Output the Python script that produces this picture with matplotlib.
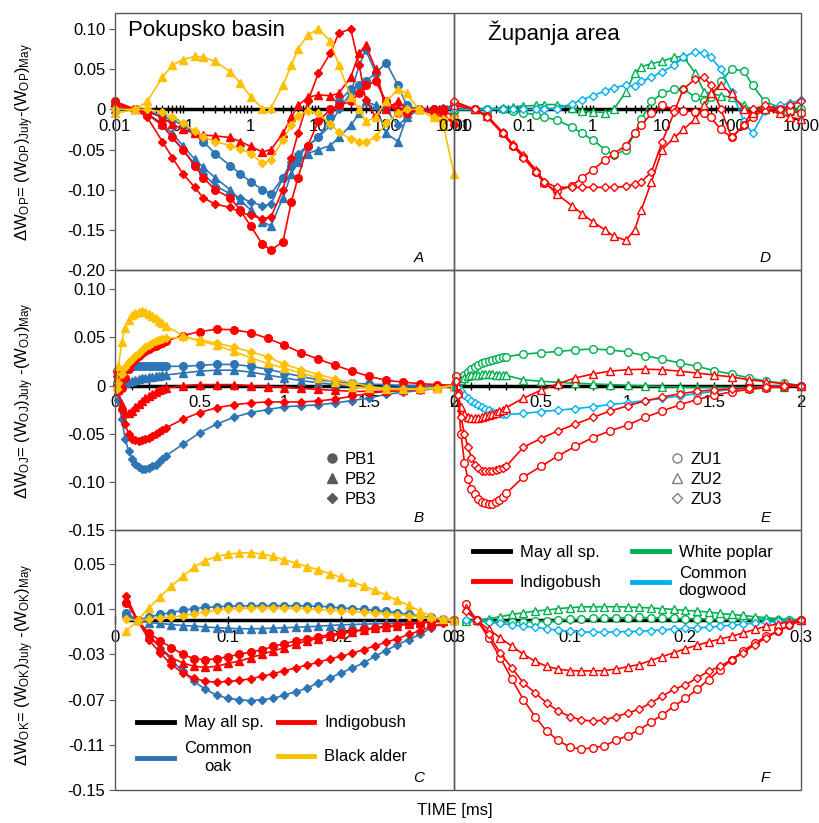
import matplotlib
matplotlib.use('Agg')
import matplotlib.pyplot as plt
from matplotlib.lines import Line2D
from matplotlib.legend import Legend
from matplotlib.patches import Rectangle
from matplotlib.ticker import MultipleLocator, NullFormatter

plt.rcParams['font.family'] = ['Liberation Sans', 'DejaVu Sans']
plt.rcParams['mathtext.fontset'] = 'custom'
plt.rcParams['mathtext.rm'] = 'Liberation Sans'
plt.rcParams['mathtext.it'] = 'Liberation Sans:italic'

# ---------------- data ----------------
# time grids [ms]
t_op = [0.01, 0.02, 0.03, 0.05, 0.07, 0.1, 0.15, 0.2, 0.3, 0.5, 0.7, 1, 1.5, 2, 3, 4, 5, 7,
        10, 15, 20, 30, 40, 50, 70, 100, 150, 200, 300, 500, 700, 1000]
t_oj = [0.01, 0.02, 0.04, 0.06, 0.08, 0.1, 0.12, 0.14, 0.16, 0.18, 0.2, 0.22, 0.24, 0.26, 0.28, 0.3,
        0.4, 0.5, 0.6, 0.7, 0.8, 0.9, 1.0, 1.1, 1.2, 1.3, 1.4, 1.5, 1.6, 1.7, 1.8, 1.9, 2.0]
t_ok = [0.01, 0.02, 0.03, 0.04, 0.05, 0.06, 0.07, 0.08, 0.09, 0.10, 0.11, 0.12, 0.13, 0.14, 0.15,
        0.16, 0.17, 0.18, 0.19, 0.20, 0.21, 0.22, 0.23, 0.24, 0.25, 0.26, 0.27, 0.28, 0.29, 0.30]

# panel A: dW_OP, Pokupsko basin
op_indigo_pb1 = [0.01, 0.0, -0.005, -0.02, -0.035, -0.05, -0.07, -0.085, -0.1, -0.11, -0.125, -0.145, -0.168,
                 -0.175, -0.165, -0.115, -0.085, -0.045, -0.015, 0.0, 0.005, 0.01, 0.02, 0.03, 0.035, 0.01,
                 -0.005, -0.005, 0.0, 0.0, 0.0, -0.01]
op_indigo_pb2 = [0.008, 0.0, -0.003, -0.01, -0.018, -0.025, -0.03, -0.032, -0.033, -0.035, -0.04, -0.046,
                 -0.053, -0.05, -0.03, -0.01, 0.005, 0.015, 0.018, 0.017, 0.02, 0.04, 0.07, 0.08, 0.05, 0.0,
                 0.01, 0.0, 0.0, -0.005, -0.01, -0.015]
op_indigo_pb3 = [0.005, 0.0, -0.01, -0.04, -0.06, -0.08, -0.097, -0.11, -0.118, -0.122, -0.128, -0.132,
                 -0.136, -0.134, -0.1, -0.06, -0.03, 0.01, 0.045, 0.07, 0.095, 0.1, 0.055, 0.012, -0.01,
                 0.01, 0.0, -0.005, 0.0, -0.005, -0.005, -0.02]
op_oak_pb1 = [0.005, 0.0, -0.002, -0.008, -0.013, -0.02, -0.03, -0.04, -0.055, -0.07, -0.08, -0.09, -0.1,
              -0.105, -0.085, -0.07, -0.06, -0.045, -0.035, -0.01, 0.01, 0.025, 0.03, 0.035, 0.045, 0.058,
              0.03, 0.005, 0.0, 0.0, 0.0, 0.003]
op_oak_pb2 = [0.0, 0.0, -0.005, -0.018, -0.03, -0.045, -0.062, -0.072, -0.085, -0.1, -0.113, -0.125, -0.14,
              -0.145, -0.11, -0.08, -0.065, -0.055, -0.05, -0.045, -0.035, -0.02, -0.005, 0.01, 0.005,
              -0.03, -0.04, -0.01, 0.0, 0.0, 0.0, 0.0]
op_oak_pb3 = [0.0, 0.0, -0.006, -0.02, -0.035, -0.05, -0.068, -0.08, -0.095, -0.105, -0.11, -0.115, -0.12,
              -0.118, -0.085, -0.065, -0.055, -0.045, -0.035, -0.02, 0.0, 0.02, 0.055, 0.074, 0.045, 0.0,
              -0.02, -0.01, 0.0, 0.0, 0.002, 0.005]
op_alder_pb2 = [-0.005, 0.0, 0.01, 0.04, 0.055, 0.062, 0.066, 0.065, 0.06, 0.047, 0.033, 0.016, 0.001,
                0.002, 0.03, 0.055, 0.075, 0.093, 0.1, 0.085, 0.055, 0.016, 0.0, -0.015, -0.01, 0.01, 0.025,
                0.02, 0.0, -0.01, -0.02, -0.08]
op_alder_pb3 = [0.0, 0.0, 0.0, -0.003, -0.01, -0.017, -0.027, -0.034, -0.04, -0.045, -0.049, -0.055, -0.067,
                -0.063, -0.038, -0.02, -0.008, -0.002, -0.005, -0.018, -0.028, -0.037, -0.04, -0.04, -0.035,
                -0.017, -0.005, 0.0, 0.0, -0.01, -0.012, -0.01]

# panel D: dW_OP, Zupanja area
op_indigo_zu1 = [0.008, 0.0, -0.008, -0.03, -0.045, -0.059, -0.078, -0.092, -0.102, -0.095, -0.085, -0.075,
                 -0.063, -0.055, -0.045, -0.03, -0.02, -0.005, 0.005, 0.0, -0.002, -0.003, -0.005, -0.01,
                 -0.025, -0.035, -0.02, -0.01, 0.0, 0.0, -0.002, -0.005]
op_indigo_zu2 = [0.005, 0.0, -0.008, -0.028, -0.043, -0.057, -0.075, -0.09, -0.105, -0.12, -0.13, -0.14,
                 -0.15, -0.158, -0.163, -0.15, -0.125, -0.09, -0.05, -0.035, -0.025, -0.012, 0.005, 0.02,
                 0.03, 0.02, 0.0, -0.005, 0.0, -0.005, -0.01, -0.012]
op_indigo_zu3 = [0.01, 0.0, -0.01, -0.03, -0.045, -0.06, -0.078, -0.09, -0.097, -0.097, -0.097, -0.097,
                 -0.097, -0.097, -0.096, -0.093, -0.09, -0.078, -0.04, -0.003, 0.025, 0.038, 0.04, 0.03, 0.0,
                 -0.035, -0.02, 0.0, 0.005, 0.0, 0.005, 0.01]
op_poplar_zu1 = [0.0, 0.0, 0.0, 0.0, -0.002, -0.004, -0.007, -0.01, -0.013, -0.022, -0.03, -0.038, -0.05,
                 -0.057, -0.05, -0.03, -0.012, 0.01, 0.02, 0.025, 0.026, 0.015, 0.01, 0.015, 0.035, 0.05,
                 0.048, 0.03, 0.01, 0.002, 0.0, 0.0]
op_poplar_zu2 = [0.0, 0.0, 0.0, 0.002, 0.003, 0.004, 0.005, 0.006, 0.006, 0.002, -0.002, -0.003, -0.004,
                 0.0, 0.022, 0.045, 0.053, 0.057, 0.06, 0.065, 0.066, 0.045, 0.022, 0.02, 0.017, 0.015,
                 0.005, 0.0, 0.0, 0.0, -0.002, -0.002]
op_dogwood_zu3 = [0.0, 0.0, 0.0, 0.0, 0.0, 0.0, 0.0, 0.0, 0.001, 0.007, 0.012, 0.017, 0.023, 0.027, 0.03,
                  0.029, 0.035, 0.04, 0.047, 0.055, 0.065, 0.072, 0.07, 0.065, 0.05, 0.022, -0.015, -0.03,
                  -0.002, 0.005, 0.008, 0.012]

# panel B: dW_OJ, Pokupsko basin
oj_indigo_pb1 = [0.015, 0.005, -0.002, 0.008, 0.017, 0.024, 0.028, 0.031, 0.034, 0.036, 0.038, 0.04, 0.041,
                 0.043, 0.044, 0.046, 0.052, 0.056, 0.0585, 0.058, 0.055, 0.049, 0.042, 0.034, 0.0275, 0.021,
                 0.015, 0.0095, 0.0055, 0.0035, 0.002, 0.001, 0.0]
oj_indigo_pb2 = [0.005, -0.005, -0.02, -0.028, -0.028, -0.026, -0.022, -0.019, -0.016, -0.013, -0.011,
                 -0.009, -0.007, -0.005, -0.004, -0.003, 0.0, 0.001, 0.001, 0.001, 0.0, -0.001, -0.002,
                 -0.003, -0.004, -0.005, -0.006, -0.006, -0.006, -0.005, -0.004, -0.002, 0.0]
oj_indigo_pb3 = [0.01, -0.005, -0.025, -0.04, -0.05, -0.055, -0.057, -0.058, -0.057, -0.056, -0.054, -0.052,
                 -0.05, -0.048, -0.046, -0.044, -0.035, -0.028, -0.023, -0.02, -0.018, -0.017, -0.017,
                 -0.017, -0.016, -0.014, -0.011, -0.008, -0.006, -0.005, -0.004, -0.002, 0.0]
oj_oak_pb1 = [0.003, 0.008, 0.014, 0.017, 0.019, 0.02, 0.02, 0.02, 0.02, 0.02, 0.02, 0.02, 0.02, 0.02, 0.02,
              0.02, 0.02, 0.021, 0.022, 0.022, 0.02, 0.017, 0.013, 0.0095, 0.006, 0.004, 0.0025, 0.0015,
              0.001, 0.0, 0.0, 0.0, 0.0]
oj_oak_pb2 = [0.0, 0.001, 0.002, 0.003, 0.004, 0.005, 0.006, 0.007, 0.0075, 0.008, 0.0085, 0.009, 0.0095,
              0.01, 0.0105, 0.011, 0.013, 0.015, 0.016, 0.016, 0.014, 0.011, 0.008, 0.005, 0.003, 0.001,
              -0.001, -0.002, -0.002, -0.002, -0.001, -0.001, 0.0]
oj_oak_pb3 = [0.003, -0.015, -0.035, -0.055, -0.068, -0.076, -0.081, -0.085, -0.087, -0.087, -0.086, -0.084,
              -0.082, -0.079, -0.076, -0.073, -0.061, -0.049, -0.04, -0.033, -0.028, -0.025, -0.022, -0.021,
              -0.02, -0.018, -0.0155, -0.013, -0.009, -0.007, -0.005, -0.003, 0.0]
oj_alder_pb2 = [0.0, 0.02, 0.045, 0.06, 0.068, 0.073, 0.075, 0.076, 0.077, 0.076, 0.074, 0.072, 0.07, 0.067,
                0.065, 0.062, 0.052, 0.046, 0.042, 0.0355, 0.029, 0.023, 0.018, 0.013, 0.008, 0.004, -0.001,
                -0.003, -0.004, -0.004, -0.003, -0.002, 0.0]
oj_alder_pb3 = [-0.004, 0.003, 0.012, 0.019, 0.024, 0.028, 0.031, 0.034, 0.037, 0.04, 0.042, 0.044, 0.046,
                0.047, 0.048, 0.049, 0.05, 0.0475, 0.044, 0.04, 0.035, 0.03, 0.022, 0.0165, 0.0115, 0.007,
                0.003, -0.001, -0.003, -0.004, -0.004, -0.003, 0.0]

# panel E: dW_OJ, Zupanja area
oj_indigo_zu1 = [0.01, -0.008, -0.05, -0.08, -0.097, -0.107, -0.113, -0.118, -0.121, -0.122, -0.123, -0.123,
                 -0.121, -0.119, -0.116, -0.112, -0.095, -0.084, -0.073, -0.063, -0.054, -0.047, -0.041,
                 -0.033, -0.0265, -0.02, -0.0145, -0.01, -0.0065, -0.004, -0.0024, -0.001, 0.0]
oj_indigo_zu2 = [0.005, -0.008, -0.022, -0.03, -0.033, -0.034, -0.034, -0.034, -0.033, -0.032, -0.031, -0.03,
                 -0.028, -0.026, -0.025, -0.023, -0.013, -0.005, 0.002, 0.008, 0.012, 0.015, 0.0165, 0.017,
                 0.0165, 0.015, 0.013, 0.011, 0.009, 0.006, 0.004, 0.002, 0.0]
oj_indigo_zu3 = [0.005, -0.01, -0.033, -0.05, -0.064, -0.075, -0.082, -0.086, -0.0885, -0.089, -0.089,
                 -0.0885, -0.088, -0.087, -0.086, -0.084, -0.064, -0.055, -0.047, -0.04, -0.033, -0.0265,
                 -0.021, -0.016, -0.012, -0.0085, -0.006, -0.0045, -0.0035, -0.0025, -0.0015, -0.0005, 0.0]
oj_poplar_zu1 = [0.0, 0.003, 0.007, 0.011, 0.014, 0.017, 0.019, 0.021, 0.023, 0.025, 0.026, 0.027, 0.028,
                 0.029, 0.0295, 0.03, 0.0327, 0.034, 0.0355, 0.037, 0.038, 0.037, 0.035, 0.031, 0.0275,
                 0.0235, 0.02, 0.0155, 0.012, 0.008, 0.0045, 0.0024, 0.0]
oj_poplar_zu2 = [0.0, 0.003, 0.006, 0.008, 0.0095, 0.0105, 0.011, 0.0115, 0.012, 0.012, 0.012, 0.012, 0.0115,
                 0.011, 0.011, 0.0107, 0.006, 0.0045, 0.0034, 0.0024, 0.0017, 0.001, 0.0003, -0.0005, -0.001,
                 -0.0015, -0.002, -0.002, -0.002, -0.002, -0.0015, -0.001, 0.0]
oj_dogwood_zu3 = [0.0, -0.002, -0.006, -0.01, -0.013, -0.016, -0.018, -0.02, -0.022, -0.024, -0.0255, -0.027,
                  -0.028, -0.029, -0.0295, -0.03, -0.029, -0.027, -0.0255, -0.024, -0.022, -0.0196, -0.018,
                  -0.0155, -0.0134, -0.0107, -0.0083, -0.006, -0.004, -0.0025, -0.001, 0.0, 0.0]

# panel C: dW_OK, Pokupsko basin
ok_indigo_pb1 = [0.0157, 0.0, -0.011, -0.018, -0.024, -0.03, -0.034, -0.0347, -0.034, -0.032, -0.03, -0.028,
                 -0.026, -0.023, -0.0205, -0.018, -0.0165, -0.0145, -0.0125, -0.011, -0.0095, -0.008,
                 -0.0065, -0.005, -0.004, -0.003, -0.002, -0.0012, -0.0006, 0.0]
ok_indigo_pb2 = [0.019, 0.0, -0.0125, -0.024, -0.033, -0.0376, -0.0406, -0.0415, -0.0406, -0.038, -0.036,
                 -0.033, -0.03, -0.027, -0.024, -0.021, -0.018, -0.016, -0.014, -0.012, -0.01, -0.0085,
                 -0.007, -0.0058, -0.0046, -0.0034, -0.0024, -0.0015, -0.0006, 0.0]
ok_indigo_pb3 = [0.0216, 0.0, -0.017, -0.029, -0.039, -0.0465, -0.051, -0.054, -0.0545, -0.054, -0.053,
                 -0.0516, -0.0495, -0.047, -0.0445, -0.042, -0.0395, -0.037, -0.034, -0.0317, -0.029,
                 -0.0258, -0.0225, -0.0193, -0.016, -0.0124, -0.009, -0.0055, -0.0025, 0.0]
ok_oak_pb1 = [0.007, 0.0, 0.003, 0.0053, 0.0068, 0.009, 0.0104, 0.0116, 0.012, 0.0127, 0.0128, 0.0129, 0.013,
              0.013, 0.013, 0.013, 0.0128, 0.0125, 0.012, 0.011, 0.0105, 0.0098, 0.009, 0.008, 0.0068,
              0.0055, 0.0039, 0.0027, 0.0015, 0.0]
ok_oak_pb2 = [0.007, 0.0, -0.002, -0.0027, -0.0036, -0.0045, -0.005, -0.0057, -0.0065, -0.007, -0.0073,
              -0.0074, -0.0072, -0.0068, -0.0065, -0.006, -0.0056, -0.0051, -0.0045, -0.0039, -0.0036,
              -0.0033, -0.003, -0.0027, -0.0024, -0.002, -0.0015, -0.001, -0.0003, 0.0]
ok_oak_pb3 = [0.005, 0.0, -0.014, -0.024, -0.035, -0.045, -0.054, -0.061, -0.066, -0.069, -0.07, -0.071,
              -0.07, -0.069, -0.066, -0.063, -0.06, -0.055, -0.051, -0.0465, -0.042, -0.0376, -0.0317,
              -0.0267, -0.0213, -0.0169, -0.0124, -0.0065, -0.0027, 0.0]
ok_alder_pb2 = [-0.0095, 0.0, 0.011, 0.021, 0.0305, 0.039, 0.047, 0.053, 0.0566, 0.0587, 0.0596, 0.06,
                0.0587, 0.0566, 0.0536, 0.0507, 0.0477, 0.0447, 0.0415, 0.038, 0.034, 0.0305, 0.0267,
                0.0225, 0.0178, 0.0133, 0.0083, 0.0039, 0.001, 0.0]
ok_alder_pb3 = [0.001, 0.0, 0.001, 0.0024, 0.003, 0.004, 0.006, 0.0077, 0.009, 0.0104, 0.0107, 0.011,
                0.0113, 0.0113, 0.011, 0.011, 0.0104, 0.0098, 0.0092, 0.0086, 0.008, 0.0074, 0.0068, 0.006,
                0.0051, 0.0042, 0.0033, 0.0021, 0.0009, 0.0]

# panel F: dW_OK, Zupanja area
ok_indigo_zu1 = [0.0142, 0.0, -0.0154, -0.033, -0.052, -0.07, -0.085, -0.098, -0.106, -0.112, -0.114,
                 -0.1126, -0.111, -0.106, -0.102, -0.097, -0.09, -0.0836, -0.076, -0.069, -0.061, -0.0524,
                 -0.0436, -0.0347, -0.027, -0.02, -0.014, -0.0095, -0.0044, 0.0]
ok_indigo_zu2 = [0.011, 0.0, -0.008, -0.0154, -0.0228, -0.03, -0.036, -0.0406, -0.043, -0.0444, -0.0446,
                 -0.0446, -0.0444, -0.043, -0.041, -0.039, -0.0355, -0.032, -0.0285, -0.025, -0.022, -0.019,
                 -0.0165, -0.014, -0.011, -0.008, -0.005, -0.003, -0.0012, 0.0]
ok_indigo_zu3 = [0.0083, 0.0, -0.0124, -0.029, -0.042, -0.0554, -0.064, -0.073, -0.08, -0.085, -0.088,
                 -0.089, -0.088, -0.085, -0.082, -0.0785, -0.073, -0.067, -0.061, -0.057, -0.051, -0.045,
                 -0.0406, -0.0347, -0.0287, -0.0213, -0.0154, -0.0095, -0.0044, 0.0]
ok_poplar_zu1 = [-0.0006, 0.0, -0.0006, -0.0012, -0.0012, -0.0012, -0.0009, -0.0006, 0.0, 0.001, 0.001,
                 0.0018, 0.0021, 0.0024, 0.0024, 0.0027, 0.0024, 0.0021, 0.0018, 0.0015, 0.0015, 0.0012,
                 0.0009, 0.0009, 0.0009, 0.0006, 0.0006, 0.0006, 0.0003, 0.0]
ok_poplar_zu2 = [-0.0006, 0.0, 0.0015, 0.0033, 0.0053, 0.0068, 0.0083, 0.0092, 0.0104, 0.0113, 0.0119,
                 0.0121, 0.0121, 0.0121, 0.0119, 0.0116, 0.011, 0.0104, 0.0098, 0.0089, 0.0083, 0.0074,
                 0.0062, 0.0053, 0.0044, 0.0033, 0.0024, 0.0015, 0.0006, 0.0]
ok_dogwood_zu3 = [0.0, -0.0006, -0.0015, -0.0027, -0.0039, -0.005, -0.0062, -0.0074, -0.0086, -0.0095,
                  -0.0101, -0.0104, -0.0104, -0.0101, -0.0098, -0.0095, -0.0089, -0.0083, -0.0077, -0.0071,
                  -0.0065, -0.006, -0.0051, -0.0042, -0.0033, -0.0024, -0.0015, -0.0009, -0.0003, 0.0]

# ---------------- style ----------------
RED = '#FF0000'
BLUE = '#2E75B6'
GOLD = '#FFC000'
GREEN = '#00B050'
CYAN = '#00B0F0'
FRAME = '#595959'
MK = {'o': 5.5, '^': 5.5, 'D': 4.2}

fig = plt.figure(figsize=(8.2, 8.23), dpi=100)

col_x = [(0.1402, 0.4134), (0.5537, 0.4232)]
row_y = [(0.6719, 0.3123), (0.356, 0.3159), (0.0401, 0.3159)]


def draw(ax, t, series, hollow):
    ax.plot(t, [0] * len(t), color='black', lw=2.5, zorder=2, clip_on=False)
    for vals, col, mk in series:
        ax.plot(t, vals, color=col, lw=1.2, marker=mk, ms=MK[mk],
                mfc='white' if hollow else col, mec=col, mew=1.0,
                zorder=3, clip_on=False)


def frame(ax, letter):
    for s in ['top', 'left', 'right']:
        ax.spines[s].set_visible(False)
    ax.spines['bottom'].set_position(('data', 0))
    ax.spines['bottom'].set_color('none')
    ax.add_patch(Rectangle((0, 0), 1, 1, transform=ax.transAxes, fill=False,
                           ec=FRAME, lw=1.0, clip_on=False, zorder=6))
    ax.tick_params(axis='x', which='both', direction='inout', length=6, width=1,
                   color='black', pad=4, labelsize=12)
    ax.text(0.897, 0.032, letter, transform=ax.transAxes, ha='center',
            va='baseline', fontsize=11, style='italic')


left_op = [(op_oak_pb1, BLUE, 'o'), (op_oak_pb2, BLUE, '^'), (op_oak_pb3, BLUE, 'D'),
           (op_indigo_pb1, RED, 'o'), (op_indigo_pb2, RED, '^'), (op_indigo_pb3, RED, 'D'),
           (op_alder_pb2, GOLD, '^'), (op_alder_pb3, GOLD, 'D')]
right_op = [(op_poplar_zu1, GREEN, 'o'), (op_poplar_zu2, GREEN, '^'), (op_dogwood_zu3, CYAN, 'D'),
            (op_indigo_zu1, RED, 'o'), (op_indigo_zu2, RED, '^'), (op_indigo_zu3, RED, 'D')]
left_oj = [(oj_oak_pb1, BLUE, 'o'), (oj_oak_pb2, BLUE, '^'), (oj_oak_pb3, BLUE, 'D'),
           (oj_indigo_pb1, RED, 'o'), (oj_indigo_pb2, RED, '^'), (oj_indigo_pb3, RED, 'D'),
           (oj_alder_pb2, GOLD, '^'), (oj_alder_pb3, GOLD, 'D')]
right_oj = [(oj_poplar_zu1, GREEN, 'o'), (oj_poplar_zu2, GREEN, '^'), (oj_dogwood_zu3, CYAN, 'D'),
            (oj_indigo_zu1, RED, 'o'), (oj_indigo_zu2, RED, '^'), (oj_indigo_zu3, RED, 'D')]
left_ok = [(ok_oak_pb1, BLUE, 'o'), (ok_oak_pb2, BLUE, '^'), (ok_oak_pb3, BLUE, 'D'),
           (ok_indigo_pb1, RED, 'o'), (ok_indigo_pb2, RED, '^'), (ok_indigo_pb3, RED, 'D'),
           (ok_alder_pb2, GOLD, '^'), (ok_alder_pb3, GOLD, 'D')]
right_ok = [(ok_poplar_zu1, GREEN, 'o'), (ok_poplar_zu2, GREEN, '^'), (ok_dogwood_zu3, CYAN, 'D'),
            (ok_indigo_zu1, RED, 'o'), (ok_indigo_zu2, RED, '^'), (ok_indigo_zu3, RED, 'D')]

rows = [
    dict(t=t_op, series=(left_op, right_op), log=True, xlim=(0.01, 1000), ylim=(-0.2, 0.12),
         xt=[0.01, 0.1, 1, 10, 100, 1000], xl=['0.01', '0.1', '1', '10', '100', '1000'],
         yt=[-0.2, -0.15, -0.1, -0.05, 0, 0.05, 0.1],
         yl=['-0.20', '-0.15', '-0.10', '-0.05', '0', '0.05', '0.10'], letters=('A', 'D')),
    dict(t=t_oj, series=(left_oj, right_oj), log=False, xlim=(0, 2), ylim=(-0.15, 0.12),
         xt=[0, 0.5, 1, 1.5, 2], xl=['0', '0.5', '1', '1.5', '2'],
         yt=[-0.15, -0.1, -0.05, 0, 0.05, 0.1],
         yl=['-0.15', '-0.10', '-0.05', '0', '0.05', '0.10'], letters=('B', 'E')),
    dict(t=t_ok, series=(left_ok, right_ok), log=False, xlim=(0, 0.3), ylim=(-0.15, 0.08),
         xt=[0, 0.1, 0.2, 0.3], xl=['0', '0.1', '0.2', '0.3'],
         yt=[-0.15, -0.11, -0.07, -0.03, 0.01, 0.05],
         yl=['-0.15', '-0.11', '-0.07', '-0.03', '0.01', '0.05'], letters=('C', 'F')),
]

axes = []
for r, row in enumerate(rows):
    ax_row = []
    for c in range(2):
        x0, w = col_x[c]
        y0, h = row_y[r]
        ax = fig.add_axes([x0, y0, w, h])
        ax.patch.set_alpha(0)
        if row['log']:
            ax.set_xscale('log')
            ax.xaxis.set_minor_formatter(NullFormatter())
        elif r == 1:
            ax.xaxis.set_minor_locator(MultipleLocator(0.1))
        draw(ax, row['t'], row['series'][c], hollow=(c == 1))
        ax.set_xlim(*row['xlim'])
        ax.set_ylim(*row['ylim'])
        ax.set_xticks(row['xt'])
        ax.set_xticklabels(row['xl'])
        frame(ax, row['letters'][c])
        if c == 0:
            ax.set_yticks(row['yt'])
            ax.set_yticklabels(row['yl'])
            ax.tick_params(axis='y', direction='out', length=4, color=FRAME, labelsize=12, pad=3)
        else:
            ax.tick_params(axis='y', left=False, labelleft=False)
        ax_row.append(ax)
    axes.append(ax_row)

axA, axD = axes[0]
axB, axE = axes[1]
axC, axF = axes[2]

axA.text(0.038, 0.91, 'Pokupsko basin', transform=axA.transAxes, fontsize=16, va='baseline')
axD.text(0.098, 0.895, 'Županja area', transform=axD.transAxes, fontsize=16, va='baseline')

# marker legends (sites)
pb_handles = [Line2D([], [], ls='none', marker=m, ms=MK[m] + 1, color=FRAME) for m in ['o', '^', 'D']]
axB.legend(pb_handles, ['PB1', 'PB2', 'PB3'], loc='upper left', bbox_to_anchor=(0.585, 0.345),
           frameon=False, fontsize=12, handlelength=0.8, handletextpad=0.4, labelspacing=0.3,
           borderpad=0.2)
zu_handles = [Line2D([], [], ls='none', marker=m, ms=MK[m] + 1, mfc='white', mec='#808080')
              for m in ['o', '^', 'D']]
axE.legend(zu_handles, ['ZU1', 'ZU2', 'ZU3'], loc='upper left', bbox_to_anchor=(0.59, 0.345),
           frameon=False, fontsize=12, handlelength=0.8, handletextpad=0.4, labelspacing=0.3,
           borderpad=0.2)


# species legends: one small legend per entry so rows line up as in the figure
def species_key(ax, col, label, x, y):
    leg = Legend(ax, [Line2D([], [], color=col, lw=3.5)], [label], loc='center left',
                 bbox_to_anchor=(x, y), frameon=False, fontsize=12, handlelength=2.2,
                 handletextpad=0.6, borderpad=0, borderaxespad=0)
    for txt in leg.get_texts():
        txt.set_multialignment('center')
    ax.add_artist(leg)


species_key(axC, 'black', 'May all sp.', 0.065, 0.258)
species_key(axC, BLUE, 'Common\noak', 0.065, 0.125)
species_key(axC, RED, 'Indigobush', 0.48, 0.258)
species_key(axC, GOLD, 'Black alder', 0.48, 0.127)

species_key(axF, 'black', 'May all sp.', 0.055, 0.915)
species_key(axF, RED, 'Indigobush', 0.055, 0.80)
species_key(axF, GREEN, 'White poplar', 0.513, 0.915)
species_key(axF, CYAN, 'Common\ndogwood', 0.513, 0.80)

# axis labels
fig.text(0.03, 0.827, r'$\Delta$W$_{\rm OP}$= (W$_{\rm OP}$)$_{\rm July}$-(W$_{\rm OP}$)$_{\rm May}$',
         rotation=90, ha='center', va='center', fontsize=12)
fig.text(0.03, 0.513, r'$\Delta$W$_{\rm OJ}$= (W$_{\rm OJ}$)$_{\rm July}$ -(W$_{\rm OJ}$)$_{\rm May}$',
         rotation=90, ha='center', va='center', fontsize=12)
fig.text(0.03, 0.192, r'$\Delta$W$_{\rm OK}$= (W$_{\rm OK}$)$_{\rm July}$ -(W$_{\rm OK}$)$_{\rm May}$',
         rotation=90, ha='center', va='center', fontsize=12)
fig.text(0.555, 0.01, 'TIME [ms]', ha='center', va='baseline', fontsize=12)

fig.savefig('out.png', dpi=100)
